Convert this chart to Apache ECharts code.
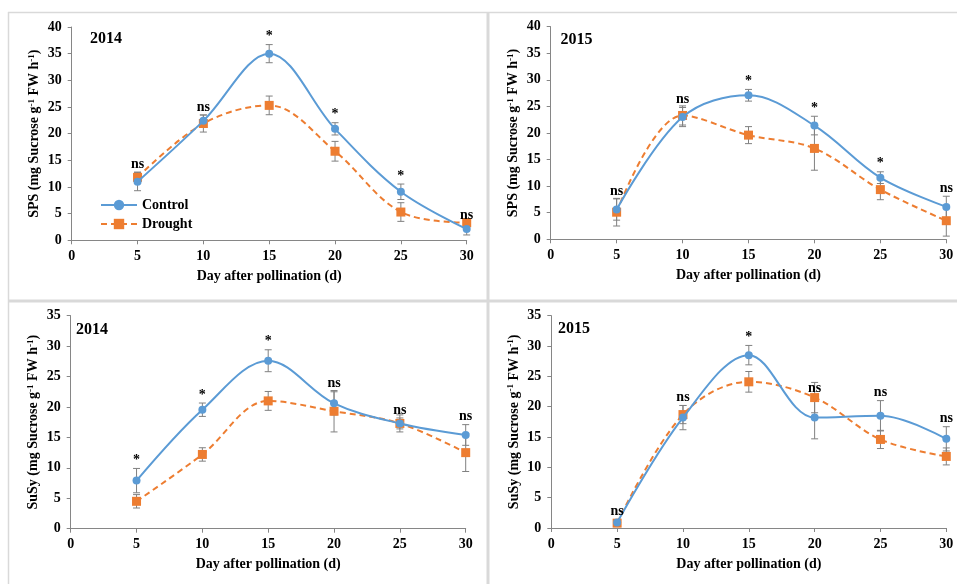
<!DOCTYPE html>
<html>
<head>
<meta charset="utf-8">
<script src="https://cdn.jsdelivr.net/npm/echarts@6/dist/echarts.min.js"></script>
<style>
html,body{margin:0;padding:0;background:#fff;}
#main{width:957px;height:584px;}
</style>
</head>
<body>
<div id="main"></div>
<script>
// ---- Data ----
const days = [5, 10, 15, 20, 25, 30];
const xTicks = [0, 5, 10, 15, 20, 25, 30];

const sps2014Control    = [11.0, 22.4, 35.0, 20.9, 9.1, 2.1];
const sps2014ControlErr = [1.7, 1.1, 1.7, 1.15, 1.45, 1.1];
const sps2014Drought    = [11.8, 21.9, 25.3, 16.7, 5.3, 3.3];
const sps2014DroughtErr = [1.0, 1.6, 1.75, 1.85, 1.75, 0.5];
const sps2014Sig        = ['ns', 'ns', '*', '*', '*', 'ns'];

const sps2015Control    = [5.6, 23.0, 27.1, 21.4, 11.6, 6.1];
const sps2015ControlErr = [2.0, 1.8, 1.1, 1.75, 1.1, 2.0];
const sps2015Drought    = [5.1, 23.3, 19.6, 17.1, 9.35, 3.5];
const sps2015DroughtErr = [2.6, 1.8, 1.6, 4.1, 1.9, 2.9];
const sps2015Sig        = ['ns', 'ns', '*', '*', '*', 'ns'];

const susy2014Control    = [7.9, 19.55, 27.6, 20.6, 17.3, 15.4];
const susy2014ControlErr = [2.0, 1.1, 1.8, 1.9, 0.9, 1.7];
const susy2014Drought    = [4.5, 12.2, 21.0, 19.3, 17.3, 12.5];
const susy2014DroughtErr = [1.1, 1.1, 1.55, 3.4, 1.4, 3.1];
const susy2014Sig        = ['*', '*', '*', 'ns', 'ns', 'ns'];

const susy2015Control    = [0.9, 18.2, 28.5, 18.2, 18.5, 14.7];
const susy2015ControlErr = [0.5, 2.0, 1.6, 3.5, 2.5, 2.0];
const susy2015Drought    = [0.8, 18.7, 24.1, 21.5, 14.6, 11.8];
const susy2015DroughtErr = [0.3, 1.5, 1.7, 2.5, 1.5, 1.4];
const susy2015Sig        = ['ns', 'ns', '*', 'ns', 'ns', 'ns'];

const seriesNames = ['Control', 'Drought'];
const xAxisTitle = 'Day after pollination (d)';

// ---- Layout / style ----
const FONT = '"Liberation Serif", "Times New Roman", serif';
const BLUE = '#5B9BD5';
const ORANGE = '#ED7D31';
const ERR = '#808080';
const AXIS = '#868686';
const FS = 14;

const panels = [
  {c: sps2014Control, ce: sps2014ControlErr, d: sps2014Drought, de: sps2014DroughtErr, sig: sps2014Sig,
   yMax: 40, yLabel: 'SPS', year: '2014', grid: {left: 71.7, top: 27, width: 395, height: 213.3}},
  {c: sps2015Control, ce: sps2015ControlErr, d: sps2015Drought, de: sps2015DroughtErr, sig: sps2015Sig,
   yMax: 40, yLabel: 'SPS', year: '2015', grid: {left: 550.7, top: 26.7, width: 395.6, height: 212.6}},
  {c: susy2014Control, ce: susy2014ControlErr, d: susy2014Drought, de: susy2014DroughtErr, sig: susy2014Sig,
   yMax: 35, yLabel: 'SuSy', year: '2014', grid: {left: 70.7, top: 315.7, width: 395, height: 213}},
  {c: susy2015Control, ce: susy2015ControlErr, d: susy2015Drought, de: susy2015DroughtErr, sig: susy2015Sig,
   yMax: 35, yLabel: 'SuSy', year: '2015', grid: {left: 551.3, top: 315.7, width: 395, height: 212.3}}
];
const yearPos = [{left: 90, top: 31}, {left: 560.5, top: 32}, {left: 76, top: 321.5}, {left: 558, top: 321}];

function errRender(params, api) {
  const x = api.value(0), y = api.value(1), e = api.value(2);
  const t = api.coord([x, y + e]);
  const b = api.coord([x, Math.max(0, y - e)]);
  const h = 3.5;
  const st = {stroke: ERR, lineWidth: 1};
  return {type: 'group', children: [
    {type: 'line', shape: {x1: t[0], y1: t[1], x2: b[0], y2: b[1]}, style: st},
    {type: 'line', shape: {x1: t[0] - h, y1: t[1], x2: t[0] + h, y2: t[1]}, style: st},
    {type: 'line', shape: {x1: b[0] - h, y1: b[1], x2: b[0] + h, y2: b[1]}, style: st}
  ]};
}

const grids = [], xAxes = [], yAxes = [], series = [], titles = [];
panels.forEach((p, i) => {
  grids.push(Object.assign({containLabel: false}, p.grid));
  xAxes.push({
    type: 'value', gridIndex: i, min: 0, max: 30, interval: 5,
    name: xAxisTitle, nameLocation: 'middle', nameGap: 29,
    nameTextStyle: {fontFamily: FONT, fontWeight: 'bold', fontSize: FS, color: '#000'},
    axisLine: {show: true, onZero: false, lineStyle: {color: AXIS, width: 1}},
    axisTick: {show: true, length: 4, lineStyle: {color: AXIS}},
    axisLabel: {fontFamily: FONT, fontWeight: 'bold', fontSize: FS, color: '#000', margin: 9},
    splitLine: {show: false}
  });
  yAxes.push({
    type: 'value', gridIndex: i, min: 0, max: p.yMax, interval: 5,
    name: '{a|' + p.yLabel + ' (mg Sucrose g}{s|-1}{a| FW h}{s|-1}{a|)}',
    nameLocation: 'middle', nameGap: 29, nameRotate: 90,
    nameTextStyle: {
      rich: {
        a: {fontFamily: FONT, fontWeight: 'bold', fontSize: FS, color: '#000', lineHeight: 16},
        s: {fontFamily: FONT, fontWeight: 'bold', fontSize: 9, color: '#000', lineHeight: 9, verticalAlign: 'top'}
      }
    },
    axisLine: {show: true, lineStyle: {color: AXIS, width: 1}},
    axisTick: {show: true, length: 4, lineStyle: {color: AXIS}},
    axisLabel: {fontFamily: FONT, fontWeight: 'bold', fontSize: FS, color: '#000', margin: 10},
    splitLine: {show: false}
  });
  titles.push({
    text: p.year, left: yearPos[i].left, top: yearPos[i].top, padding: 0,
    textStyle: {fontFamily: FONT, fontWeight: 'bold', fontSize: 16, color: '#000'}
  });
  const cData = days.map((x, k) => [x, p.c[k], p.ce[k]]);
  const dData = days.map((x, k) => [x, p.d[k], p.de[k]]);
  series.push({
    type: 'custom', xAxisIndex: i, yAxisIndex: i, z: 1, silent: true,
    renderItem: errRender, data: dData
  });
  series.push({
    type: 'custom', xAxisIndex: i, yAxisIndex: i, z: 1, silent: true,
    renderItem: errRender, data: cData
  });
  series.push({
    name: seriesNames[1], type: 'line', xAxisIndex: i, yAxisIndex: i, z: 3,
    data: days.map((x, k) => [x, p.d[k]]), smooth: 0.35,
    symbol: 'rect', symbolSize: 9, showAllSymbol: true,
    lineStyle: {color: ORANGE, width: 2, type: [6, 4]},
    itemStyle: {color: ORANGE, borderWidth: 0}, animation: false
  });
  series.push({
    name: seriesNames[0], type: 'line', xAxisIndex: i, yAxisIndex: i, z: 4,
    data: days.map((x, k) => [x, p.c[k]]), smooth: 0.35,
    symbol: 'circle', symbolSize: 8, showAllSymbol: true,
    lineStyle: {color: BLUE, width: 2, type: 'solid'},
    itemStyle: {color: BLUE, borderWidth: 0}, animation: false
  });
  const sig = p.sig;
  // significance marks sit on top of the Control error bar
  series.push({
    type: 'custom', xAxisIndex: i, yAxisIndex: i, z: 5, silent: true,
    data: days.map((x, k) => [x, p.c[k] + p.ce[k]]),
    renderItem: function (params, api) {
      const pt = api.coord([api.value(0), api.value(1)]);
      return {type: 'text', x: pt[0], y: pt[1] - 1,
        style: {text: sig[params.dataIndex], align: 'center', verticalAlign: 'bottom',
          fontFamily: FONT, fontWeight: 'bold', fontSize: FS, fill: '#000'}};
    }
  });
});

const chart = echarts.init(document.getElementById('main'), null, {renderer: 'canvas'});
chart.setOption({
  animation: false,
  backgroundColor: '#fff',
  title: titles,
  grid: grids,
  xAxis: xAxes,
  yAxis: yAxes,
  legend: {
    data: seriesNames, orient: 'vertical', left: 100, top: 198,
    itemWidth: 36, itemHeight: 13, itemGap: 5, padding: 0,
    textStyle: {fontFamily: FONT, fontWeight: 'bold', fontSize: FS, color: '#000'}
  },
  graphic: [
    {type: 'line', shape: {x1: 8, y1: 12.5, x2: 957, y2: 12.5}, style: {stroke: '#d9d9d9', lineWidth: 1.5}, silent: true},
    {type: 'line', shape: {x1: 8.5, y1: 12, x2: 8.5, y2: 584}, style: {stroke: '#d9d9d9', lineWidth: 1.5}, silent: true},
    {type: 'line', shape: {x1: 488, y1: 12, x2: 488, y2: 584}, style: {stroke: '#d9d9d9', lineWidth: 3}, silent: true},
    {type: 'line', shape: {x1: 8, y1: 301, x2: 957, y2: 301}, style: {stroke: '#d9d9d9', lineWidth: 3}, silent: true}
  ],
  series: series
});
</script>
</body>
</html>
